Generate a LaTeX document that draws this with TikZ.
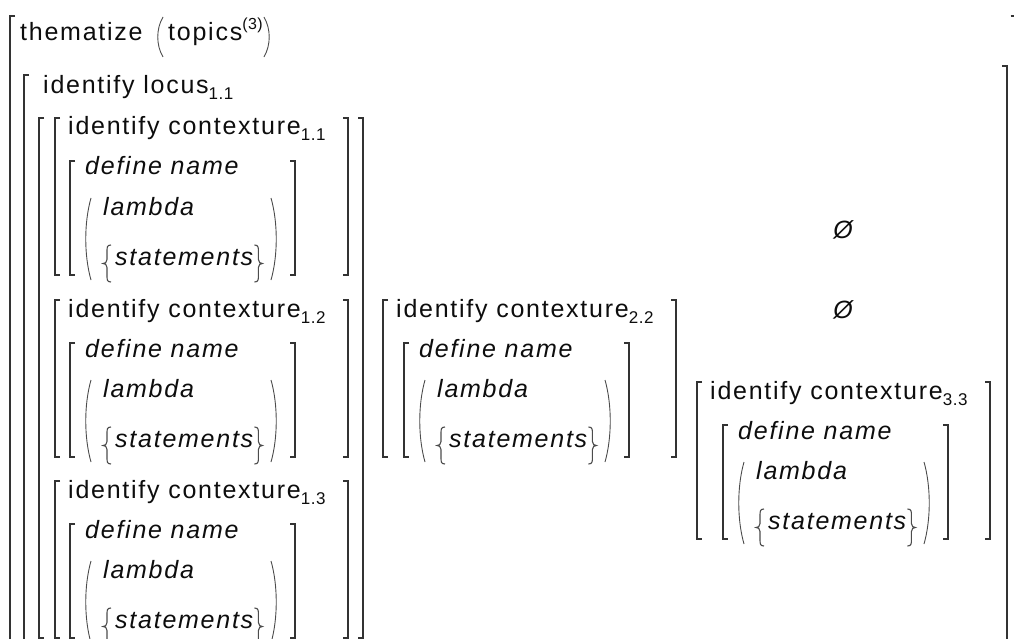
\documentclass[tikz,border=0pt]{standalone}
\usepackage{fontspec}
\setmainfont{Liberation Sans}[LetterSpace=7]

\tikzset{
  pics/lparen/.style={code={\draw[par] (6,0) .. controls (-1,0.3*#1) and (-1,0.7*#1) .. (6,#1);}},
  pics/rparen/.style={code={\draw[par] (0,0) .. controls (7,0.3*#1) and (7,0.7*#1) .. (0,#1);}},
  pics/lbrace/.style={code={\draw[par,line width=1.1pt] (8,-18.5) .. controls (4,-18.5) and (4,-16) .. (4,-12) -- (4,-4)
      .. controls (4,-1) and (2,0) .. (0,0) .. controls (2,0) and (4,1) .. (4,4) -- (4,12)
      .. controls (4,16) and (4,18.5) .. (8,18.5);}},
  pics/rbrace/.style={code={\draw[par,line width=1.1pt] (0,-18.5) .. controls (4,-18.5) and (4,-16) .. (4,-12) -- (4,-4)
      .. controls (4,-1) and (6,0) .. (8,0) .. controls (6,0) and (4,1) .. (4,4) -- (4,12)
      .. controls (4,16) and (4,18.5) .. (0,18.5);}}
}

% square brackets: x, top, bottom
\newcommand{\brL}[3]{\draw[brk] (#1+5,#2) -- (#1,#2) -- (#1,#3) -- (#1+5,#3);}
\newcommand{\brR}[3]{\draw[brk] (#1-5,#2) -- (#1,#2) -- (#1,#3) -- (#1-5,#3);}
\newcommand{\sbs}[1]{\raisebox{-6pt}{\fontsize{17}{17}\selectfont\addfontfeature{LetterSpace=3}#1}}

% one contexture: name, left x, top y, index, inner shift
\newcommand{\ctxblock}[5]{
  \brL{#2}{#3}{#3+157}
  \brR{#2+293}{#3}{#3+157}
  \node[txt,anchor=base west] (#1-id) at (#2+13,#3+17) {identify contexture\sbs{#4}};
  \brL{#2+15+#5}{#3+43}{#3+157}
  \brR{#2+240+#5}{#3+43}{#3+157}
  \node[txt,ital,anchor=base west] (#1-def) at (#2+30+#5,#3+57) {define name};
  \pic at (#2+30+#5,#3+80) {lparen=82};
  \pic at (#2+216+#5,#3+80) {rparen=82};
  \node[txt,ital,anchor=base west] (#1-lam) at (#2+48+#5,#3+97) {lambda};
  \pic at (#2+48+#5,#3+145.5) {lbrace};
  \node[txt,ital,anchor=base west] (#1-st) at (#2+60+#5,#3+147) {statements};
  \pic[xshift=1pt,yshift=1.5pt] at (#1-st.base east) {rbrace};
}

\begin{document}
\begin{tikzpicture}[x=1pt,y=-1pt,
  brk/.style={line width=1.6pt,draw=black!80},
  par/.style={line width=.9pt,draw=black!70},
  txt/.style={inner sep=0pt,text=black!95,font=\fontsize{25}{29}\selectfont},
  ital/.style={font=\fontsize{25}{29}\selectfont\itshape}]
\path[use as bounding box] (0,0) rectangle (1014,639);
\clip (0,0) rectangle (1014,639);
% thematize
\brL{10}{16}{700}
\brR{1015.5}{16}{700}
\node[txt,anchor=base west] (them) at (20,41) {thematize};
\pic at (157,17) {lparen=40};
\node[txt,anchor=base west] (topics) at (168,41) {topics\raisebox{11pt}{\fontsize{16}{16}\selectfont\addfontfeature{LetterSpace=3}(3)}};
\pic[xshift=1pt] at (topics.east |- 0,17) {rparen=40};
% locus
\brL{24}{75}{700}
\brR{1007}{66}{700}
\node[txt,anchor=base west] (locus) at (43,94) {identify locus\sbs{1.1}};
% first column
\brL{39}{118}{638}
\brR{363}{118}{638}
\ctxblock{c11}{55}{118}{1.1}{0}
\ctxblock{c12}{55}{300}{1.2}{0}
\ctxblock{c13}{55}{481}{1.3}{0}
% second column
\ctxblock{c22}{383}{300}{2.2}{6}
% third column
\node[txt,ital,anchor=base] (none1) at (843,238) {Ø};
\node[txt,ital,anchor=base] (none2) at (843,318) {Ø};
\ctxblock{c33}{697}{382}{3.3}{11}
\end{tikzpicture}
\end{document}
